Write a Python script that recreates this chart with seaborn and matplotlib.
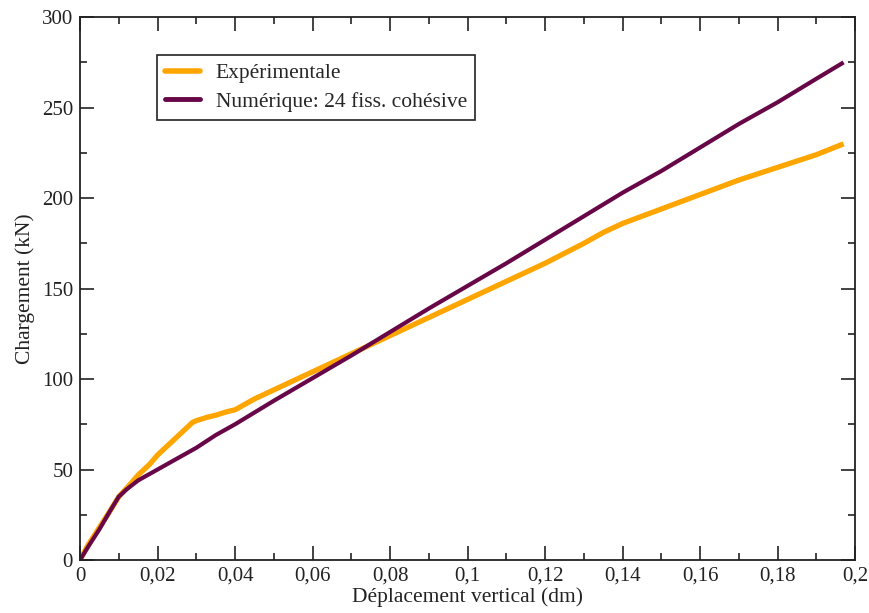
import matplotlib
matplotlib.use("Agg")
import matplotlib.pyplot as plt
import seaborn as sns
import pandas as pd
from matplotlib.ticker import MultipleLocator, FuncFormatter
from matplotlib.lines import Line2D

# Data
exp_x = [0.0, 0.002, 0.005, 0.008, 0.01, 0.013, 0.015, 0.018, 0.02, 0.023, 0.025, 0.027, 0.029, 0.03,
         0.033, 0.035, 0.038, 0.04, 0.045, 0.05, 0.055, 0.06, 0.065, 0.07, 0.075, 0.08, 0.09, 0.1,
         0.11, 0.12, 0.13, 0.135, 0.14, 0.145, 0.15, 0.16, 0.17, 0.18, 0.19, 0.197]
exp_y = [0, 8, 18, 28, 35, 42, 47, 53, 58, 64, 68, 72, 76, 77,
         79, 80, 82, 83, 89, 94, 99, 104, 109, 114, 119, 124, 134, 144,
         154, 164, 175, 181, 186, 190, 194, 202, 210, 217, 224, 230]

num_x = [0.0, 0.002, 0.005, 0.008, 0.01, 0.012, 0.015, 0.02, 0.025, 0.03, 0.035, 0.04, 0.05, 0.06,
         0.07, 0.08, 0.09, 0.1, 0.11, 0.12, 0.13, 0.14, 0.15, 0.16, 0.17, 0.18, 0.19, 0.197]
num_y = [0, 7, 17, 28, 35, 39, 44, 50, 56, 62, 69, 75, 88, 100.5,
         113, 126, 139, 151.5, 164, 177, 190, 203, 215, 228, 241, 253, 266, 275]

labels = ["Expérimentale", "Numérique: 24 fiss. cohésive"]
colors = ["#FFA500", "#670748"]

df = pd.concat([
    pd.DataFrame({"x": exp_x, "y": exp_y, "série": labels[0]}),
    pd.DataFrame({"x": num_x, "y": num_y, "série": labels[1]}),
], ignore_index=True)

sns.set_theme(style="ticks")
plt.rcParams["font.family"] = ["Liberation Serif", "DejaVu Serif"]

fig = plt.figure(figsize=(8.7, 6.13), dpi=100)
ax = fig.add_axes([0.092, 0.0865, 0.891, 0.8855])

sns.lineplot(data=df, x="x", y="y", hue="série", palette=dict(zip(labels, colors)),
             ax=ax, sort=False, estimator=None, legend=False)
lws = [3.8, 3.0]
for line, lw in zip(ax.get_lines(), lws):
    line.set_linewidth(lw)
    line.set_solid_capstyle("butt")

ax.set_xlim(0, 0.2)
ax.set_ylim(0, 300)
ax.xaxis.set_major_locator(MultipleLocator(0.02))
ax.xaxis.set_minor_locator(MultipleLocator(0.01))
ax.yaxis.set_major_locator(MultipleLocator(50))
ax.yaxis.set_minor_locator(MultipleLocator(25))

def fmt_x(v, pos):
    s = f"{v:.2f}".rstrip("0").rstrip(".")
    if s in ("0", "-0"):
        return "0"
    return s.replace(".", ",")

ax.xaxis.set_major_formatter(FuncFormatter(fmt_x))
ax.yaxis.set_major_formatter(FuncFormatter(lambda v, p: f"{int(round(v))}"))

ax.tick_params(which="both", direction="in", top=True, right=True, colors="#222222",
               labelsize=15, labelcolor="#222222")
ax.tick_params(which="major", length=10, width=1.2, pad=5)
ax.tick_params(which="minor", length=5, width=1.2)
for sp in ax.spines.values():
    sp.set_linewidth(1.3)
    sp.set_color("#222222")

ax.set_xlabel("Déplacement vertical (dm)", fontsize=15.5, color="#222222", labelpad=1)
ax.set_ylabel("Chargement (kN)", fontsize=15.5, color="#222222", labelpad=5)

handles = [Line2D([], [], color=colors[0], lw=4), Line2D([], [], color=colors[1], lw=3.5)]
leg = ax.legend(handles, labels, loc="upper left", bbox_to_anchor=(0.099, 0.93),
                fontsize=15.5, frameon=True, fancybox=False, framealpha=1,
                edgecolor="#222222", handlelength=1.65, borderpad=0.38,
                labelspacing=0.38, handletextpad=0.7, borderaxespad=0)
leg.get_frame().set_linewidth(1.2)

fig.savefig("out.png", dpi=100)
